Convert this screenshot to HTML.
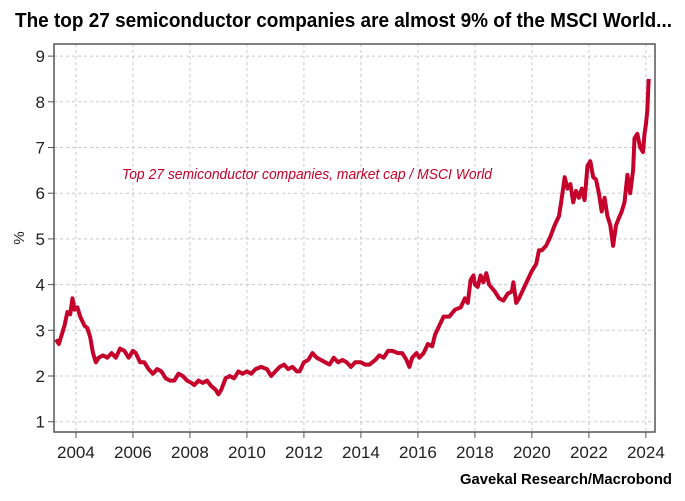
<!DOCTYPE html>
<html><head><meta charset="utf-8"><style>
body{margin:0;background:#fff;}
svg{display:block;font-family:"Liberation Sans Narrow","Liberation Sans",sans-serif;}
</style></head><body>
<svg id="chart" width="685" height="501" viewBox="0 0 685 501" xmlns="http://www.w3.org/2000/svg">
<text x="15" y="27" font-size="20" font-weight="bold" textLength="657" lengthAdjust="spacingAndGlyphs" fill="#000">The top 27 semiconductor companies are almost 9% of the MSCI World...</text>
<g id="grid"></g>
<g id="axes"></g>
<text transform="translate(24,238) rotate(-90)" font-size="15" text-anchor="middle" fill="#222">%</text>
<text x="122" y="179" font-size="15" font-style="italic" fill="#c4002b" textLength="370" lengthAdjust="spacingAndGlyphs">Top 27 semiconductor companies, market cap / MSCI World</text>
<g id="series"></g>
<text x="672" y="484" font-size="15" font-weight="bold" text-anchor="end" textLength="212" lengthAdjust="spacingAndGlyphs" fill="#000">Gavekal Research/Macrobond</text>
</svg>
<script>
const years=[2003.3,2003.4,2003.5,2003.6,2003.7,2003.8,2003.88,2003.95,2004.05,2004.15,2004.3,2004.4,2004.5,2004.6,2004.7,2004.8,2004.95,2005.1,2005.25,2005.4,2005.55,2005.7,2005.85,2006.0,2006.1,2006.25,2006.4,2006.55,2006.7,2006.85,2007.0,2007.15,2007.3,2007.45,2007.6,2007.75,2007.9,2008.05,2008.15,2008.3,2008.45,2008.6,2008.75,2008.9,2009.0,2009.1,2009.25,2009.4,2009.55,2009.7,2009.85,2010.0,2010.15,2010.3,2010.5,2010.7,2010.85,2011.0,2011.15,2011.3,2011.45,2011.6,2011.75,2011.85,2012.0,2012.15,2012.3,2012.45,2012.6,2012.75,2012.9,2013.05,2013.2,2013.35,2013.5,2013.65,2013.8,2014.0,2014.15,2014.3,2014.5,2014.65,2014.8,2014.95,2015.1,2015.3,2015.45,2015.6,2015.7,2015.8,2015.95,2016.05,2016.2,2016.35,2016.5,2016.6,2016.75,2016.9,2017.1,2017.3,2017.5,2017.65,2017.75,2017.85,2017.95,2018.0,2018.1,2018.2,2018.3,2018.4,2018.5,2018.7,2018.85,2019.0,2019.15,2019.3,2019.35,2019.45,2019.55,2019.7,2019.85,2020.0,2020.15,2020.25,2020.35,2020.5,2020.65,2020.8,2020.95,2021.05,2021.15,2021.25,2021.35,2021.45,2021.55,2021.65,2021.75,2021.85,2021.95,2022.05,2022.15,2022.25,2022.35,2022.45,2022.55,2022.65,2022.75,2022.85,2022.95,2023.05,2023.15,2023.25,2023.35,2023.45,2023.55,2023.6,2023.7,2023.8,2023.9,2023.95,2024.0,2024.05,2024.1];
const values=[2.8,2.7,2.9,3.1,3.4,3.35,3.7,3.45,3.5,3.3,3.1,3.05,2.85,2.5,2.3,2.4,2.45,2.4,2.5,2.4,2.6,2.55,2.4,2.55,2.5,2.3,2.3,2.15,2.05,2.15,2.1,1.95,1.9,1.9,2.05,2.0,1.9,1.85,1.8,1.9,1.85,1.9,1.78,1.7,1.6,1.7,1.95,2.0,1.95,2.1,2.05,2.1,2.05,2.15,2.2,2.15,2.0,2.1,2.2,2.25,2.15,2.2,2.1,2.1,2.3,2.35,2.5,2.4,2.35,2.3,2.25,2.4,2.3,2.35,2.3,2.2,2.3,2.3,2.25,2.25,2.35,2.45,2.4,2.55,2.55,2.5,2.5,2.35,2.2,2.4,2.5,2.4,2.5,2.7,2.65,2.9,3.1,3.3,3.3,3.45,3.5,3.7,3.6,4.1,4.2,4.0,3.95,4.2,4.05,4.25,4.0,3.85,3.7,3.65,3.8,3.85,4.05,3.6,3.7,3.9,4.1,4.3,4.45,4.75,4.75,4.85,5.05,5.3,5.5,5.9,6.35,6.1,6.2,5.8,6.05,5.9,6.1,5.85,6.6,6.7,6.35,6.3,6.0,5.6,5.9,5.5,5.3,4.85,5.3,5.45,5.6,5.8,6.4,6.0,6.5,7.2,7.3,7.0,6.9,7.3,7.5,7.8,8.5];
const yTicks=[1,2,3,4,5,6,7,8,9];
const xTicks=[2004,2006,2008,2010,2012,2014,2016,2018,2020,2022,2024];
const NS="http://www.w3.org/2000/svg";
const L=54,R=655,T=44,B=432;
const X0=2003.23,X1=2024.32;
function xs(v){return L+(v-X0)/(X1-X0)*(R-L);}
function ys(v){return 421.7-(v-1)*45.7;}
function mk(tag,attrs,parent){const e=document.createElementNS(NS,tag);for(const k in attrs)e.setAttribute(k,attrs[k]);parent.appendChild(e);return e;}
const grid=document.getElementById('grid'),axes=document.getElementById('axes'),series=document.getElementById('series');
yTicks.forEach(t=>{
  const y=ys(t);
  const g=mk('line',{x1:L,x2:R,y1:y,y2:y,stroke:'#c8c8c8','stroke-width':1,'stroke-dasharray':'3,3'},grid);
  
  
  mk('line',{x1:L-6,x2:L,y1:y,y2:y,stroke:'#555','stroke-width':1},axes);
  const tx=mk('text',{x:L-9,y:y+6,'font-size':17,'text-anchor':'end',fill:'#222'},axes);
  tx.textContent=t;
  
  
});
xTicks.forEach(t=>{
  const x=xs(t);
  const g=mk('line',{x1:x,x2:x,y1:T,y2:B,stroke:'#c8c8c8','stroke-width':1,'stroke-dasharray':'3,3'},grid);
  
  
  mk('line',{x1:x,x2:x,y1:B,y2:B+6,stroke:'#555','stroke-width':1},axes);
  const tx=mk('text',{x:x,y:458,'font-size':17,'text-anchor':'middle',fill:'#222'},axes);
  tx.textContent=t;
  
  
});
const fr=mk('rect',{x:L,y:T,width:R-L,height:B-T,fill:'none',stroke:'#555','stroke-width':1.5},axes);


let d='';
years.forEach((yr,i)=>{d+=(i?'L':'M')+xs(yr).toFixed(1)+','+ys(values[i]).toFixed(1);});
const p=mk('path',{d:d,fill:'none',stroke:'#c4002b','stroke-width':4,'stroke-linejoin':'round'},series);


</script>
</body></html>
